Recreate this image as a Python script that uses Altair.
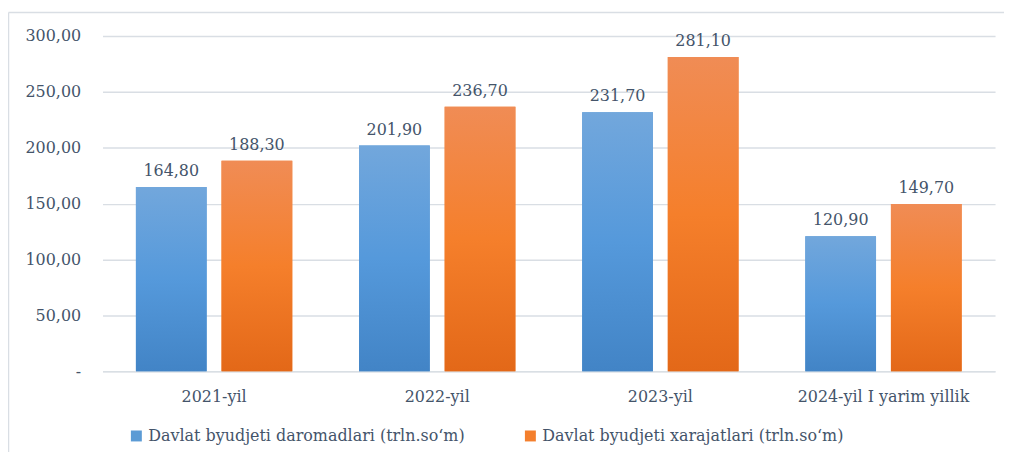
import altair as alt
import pandas as pd

years = ["2021-yil", "2022-yil", "2023-yil", "2024-yil I yarim yillik"]
series = ["Davlat byudjeti daromadlari (trln.so‘m)", "Davlat byudjeti xarajatlari (trln.so‘m)"]
income = [164.80, 201.90, 231.70, 120.90]
expense = [188.30, 236.70, 281.10, 149.70]
y_ticks = [0, 50, 100, 150, 200, 250, 300]

rows = []
for i, y in enumerate(years):
    for s, v in zip(series, [income[i], expense[i]]):
        rows.append({"year": y, "series": s, "value": v,
                     "label": f"{v:.2f}".replace(".", ",")})
df = pd.DataFrame(rows)

FONT = "DejaVu Serif"
FS = 16
TXT = "#44546A"
GRID = "#D9DEE4"
W, H = 897, 337

blue_grad = alt.Gradient(gradient="linear", x1=0, x2=0, y1=0, y2=1, stops=[
    alt.GradientStop(color="#72A7DC", offset=0),
    alt.GradientStop(color="#5599DB", offset=0.5),
    alt.GradientStop(color="#4284C6", offset=1)])
orange_grad = alt.Gradient(gradient="linear", x1=0, x2=0, y1=0, y2=1, stops=[
    alt.GradientStop(color="#F08C55", offset=0),
    alt.GradientStop(color="#F57F2B", offset=0.5),
    alt.GradientStop(color="#E36818", offset=1)])

x_enc = alt.X("year:N", sort=years, title=None,
              scale=alt.Scale(paddingInner=0, paddingOuter=0),
              axis=alt.Axis(labelAngle=0, labelFont=FONT, labelFontSize=FS, labelColor=TXT,
                            ticks=False, domain=True, domainColor=GRID, labelPadding=17,
                            grid=False))
xo_enc = alt.XOffset("series:N", sort=series,
                     scale=alt.Scale(domain=series, paddingInner=0.174, paddingOuter=0.39))
y_enc = alt.Y("value:Q", title=None,
              scale=alt.Scale(domain=[0, 300], nice=False),
              axis=alt.Axis(values=y_ticks, labelFont=FONT, labelFontSize=FS, labelColor=TXT,
                            domain=False, ticks=False, gridColor=GRID, gridWidth=1.5,
                            labelPadding=22,
                            labelExpr="datum.value == 0 ? '-' : replace(format(datum.value, '.2f'), '.', ',')"))

base = alt.Chart(df)

solid = base.mark_bar().encode(
    x=x_enc, xOffset=xo_enc, y=y_enc,
    color=alt.Color("series:N", sort=series,
                    scale=alt.Scale(domain=series, range=["#5B9BD5", "#F47F2D"]),
                    legend=alt.Legend(title=None, orient="none", direction="horizontal",
                                      legendX=26, legendY=394, symbolType="square",
                                      symbolSize=121, labelFont=FONT, labelFontSize=FS,
                                      labelColor=TXT, labelOffset=4, columnPadding=57,
                                      labelLimit=500, symbolStrokeWidth=0)))

g_blue = base.transform_filter(alt.datum.series == series[0]).mark_bar(color=blue_grad).encode(
    x=x_enc, xOffset=xo_enc, y=y_enc)
g_orange = base.transform_filter(alt.datum.series == series[1]).mark_bar(color=orange_grad).encode(
    x=x_enc, xOffset=xo_enc, y=y_enc)

labels = base.mark_text(font=FONT, fontSize=FS, color=TXT, baseline="alphabetic", dy=-11).encode(
    x=x_enc, xOffset=xo_enc, y=y_enc, text="label:N")

border = alt.Chart(pd.DataFrame({"a": [0]})).mark_rule(
    stroke="#D9DEE4", strokeWidth=1.5, clip=False).encode(
    x=alt.value(-94.5), x2=alt.value(920), y=alt.value(-23.5))
border_left = alt.Chart(pd.DataFrame({"a": [0]})).mark_rule(
    stroke="#D9DEE4", strokeWidth=1.5, clip=False).encode(
    x=alt.value(-94.5), y=alt.value(-23.5), y2=alt.value(440))

chart = alt.layer(border, border_left, solid, g_blue, g_orange, labels).properties(
    width=W, height=H,
    autosize=alt.AutoSizeParams(type="none"),
    padding={"left": 95, "top": 27, "right": 9, "bottom": 80},
).configure(background="white").configure_view(stroke="transparent", strokeWidth=0)

chart.save("out.html", embed_options={"renderer": "svg", "actions": False})
